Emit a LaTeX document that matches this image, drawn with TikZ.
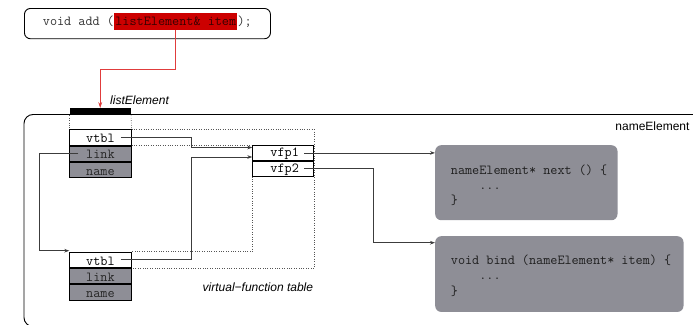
\documentclass[tikz,border=0pt]{standalone}
\usepackage{fontspec}
\setsansfont{Liberation Sans}
\usetikzlibrary{arrows.meta,backgrounds}

\definecolor{hlred}{HTML}{CC0000}
\definecolor{hltext}{HTML}{3A0000}
\definecolor{callred}{HTML}{E03C3C}
\definecolor{slotgray}{HTML}{8E8E96}
\definecolor{wire}{HTML}{3C3C3C}
\definecolor{dots}{HTML}{555555}

\newcommand\codefont{\ttfamily\fontsize{13.8}{15.3}\selectfont}
\newcommand\labelfont{\sffamily\fontsize{12}{14}\selectfont}

\begin{document}
\begin{tikzpicture}[x=1pt, y=-1pt,
  slot/.style={draw=black, line width=0.8pt, minimum width=61.4pt, minimum height=15.4pt,
    inner sep=0pt, text height=12.9pt, text depth=2.5pt, font=\codefont, anchor=north west},
  whiteslot/.style={slot, fill=white},
  grayslot/.style={slot, fill=slotgray, text=black!85},
  vslot/.style={draw=black, line width=0.8pt, fill=white, minimum width=61pt, minimum height=15pt,
    inner sep=0pt, text height=11.3pt, text depth=3.7pt, font=\codefont, anchor=north west},
  codebox/.style={fill=slotgray, rounded corners=6pt, draw=none, inner sep=0pt, anchor=north west},
  codetext/.style={font=\codefont, text=black!88, align=left, inner sep=0pt, anchor=west},
  wirearrow/.style={draw=wire, line width=0.8pt, -{Stealth[length=5pt, width=3.6pt, inset=1.6pt]}},
  callarrow/.style={draw=callred, line width=0.8pt, -{Stealth[length=6pt, width=4pt, inset=2pt]}},
  dotline/.style={draw=dots, line width=0.6pt, dash pattern=on 0.8pt off 1.6pt},
  tag/.style={font=\labelfont, inner sep=0pt}]

\useasboundingbox (0,0) rectangle (693,324);

% signature of the call
\node[draw=black, line width=0.9pt, rounded corners=6pt, minimum width=246pt,
      minimum height=30.3pt, inner sep=0pt, anchor=north west] (sigbox) at (24,8) {};
\node[font=\codefont, text=black!80, inner sep=0pt, anchor=base west] (pre) at (42.7,25.7) {void add (};
\node[font=\codefont, text=hltext, fill=hlred, inner xsep=1pt, inner ysep=0pt,
      text height=12.4pt, text depth=4.3pt, anchor=base west] (hl) at (pre.base east) {listElement\& item};
\node[font=\codefont, text=black!80, inner sep=0pt, anchor=base west] (post) at (hl.base east) {);};

% outer object frame
\draw[line width=0.9pt, rounded corners=9pt] (694,114.5) -- (24,114.5) -- (24,326.5) -- (70,326.5);
\node[tag, anchor=base east] (nameElement) at (689.7,130) {nameElement};

% listElement head bar
\node[fill=black, minimum width=61.4pt, minimum height=7pt, inner sep=0pt, anchor=north west] (bar) at (69.3,108) {};
\node[tag, font=\labelfont\itshape, anchor=base west] (listElement) at (110,104.3) {listElement};

% first object
\node[whiteslot] (vtbl1) at (69.3,129.3) {vtbl};
\node[grayslot] (link1) at (vtbl1.south west) {link};
\node[grayslot] (name1) at (link1.south west) {name};

% second object
\node[whiteslot] (vtbl2) at (69.3,251.7) {vtbl};
\node[grayslot] (link2) at (vtbl2.south west) {link};
\node[grayslot] (name2) at (link2.south west) {name};

% virtual-function table
\node[vslot] (vfp1) at (252.3,145) {\hspace{3pt}vfp1};
\node[vslot] (vfp2) at (vfp1.south west) {\hspace{3pt}vfp2};

% dotted projections of the vtbl slots onto the table, behind the slots
\begin{scope}[on background layer]
\draw[dotline] (bar.south west) -- (vtbl1.north west);
\draw[dotline] (bar.south east) -- (vtbl1.north east);
\draw[dotline] (vtbl1.north east) -- (vfp1.north east |- vtbl1.north east)
  -- (vfp1.north east |- vtbl2.south east) -- (vtbl2.south east);
\draw[dotline] (vtbl1.south east) -- (vfp1.north west |- vtbl1.south east);
\draw[dotline] (vfp2.south west) -- (vfp2.south west |- vtbl2.north east) -- (vtbl2.north east);
\end{scope}

\node[tag, font=\labelfont\itshape, anchor=base east] (vftlabel) at (313.3,291) {virtual−function table};

% method bodies
\node[codebox, minimum width=182.3pt, minimum height=75pt] (next) at (435,145) {};
\node[codetext] (nexttext) at (450.7,185.3)
  {nameElement* next () \{\\\phantom{xxxx}...\\\}};
\node[codebox, minimum width=248.3pt, minimum height=75.7pt] (bind) at (435,236) {};
\node[codetext] (bindtext) at (450.7,275.7)
  {void bind (nameElement* item) \{\\\phantom{xxxx}...\\\}};

% connectors
\draw[callarrow] (hl.south) -- ++(0,39) -| (bar.north);

\coordinate (vstart1) at ([xshift=-10.7pt]vtbl1.east);
\coordinate (vstart2) at ([xshift=-10.7pt]vtbl2.east);
\coordinate (bend) at (191,0);
\coordinate (in1) at ([yshift=-2.5pt]vfp1.north west);
\coordinate (in2) at ([yshift=-12pt]vfp1.north west);
\draw[wirearrow] (vstart1) -| (bend |- in1) -- (in1);
\draw[wirearrow] (vstart2) -| (bend |- in2) -- (in2);

\coordinate (lstart) at ([xshift=9pt]link1.west);
\coordinate (lbend) at (39.3,250.7);
\draw[wirearrow] (lstart) -| (lbend) -- (lbend -| vtbl2.west);

\coordinate (fstart1) at ([xshift=-9.7pt]vfp1.east);
\coordinate (fstart2) at ([xshift=-9.7pt]vfp2.east);
\coordinate (fbend) at (373.3,0);
\coordinate (bindin) at ([yshift=-6.7pt]bind.north west);
\draw[wirearrow] (fstart1) -- (fstart1 -| next.west);
\draw[wirearrow] (fstart2) -| (fbend |- bindin) -- (bindin);

\end{tikzpicture}
\end{document}
